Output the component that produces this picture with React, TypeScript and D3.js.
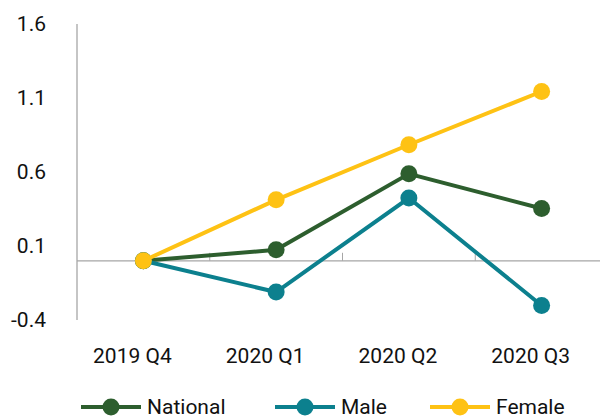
import React, { useEffect, useRef } from "react";
import * as d3 from "d3";

const categories = ["2019 Q4", "2020 Q1", "2020 Q2", "2020 Q3"];
const national = [0, 0.074, 0.588, 0.353];
const male = [0, -0.211, 0.424, -0.302];
const female = [0, 0.412, 0.784, 1.144];
const yTicks = [-0.4, 0.1, 0.6, 1.1, 1.6];
const yTickLabels = ["-0.4", "0.1", "0.6", "1.1", "1.6"];

const seriesList = [
  { name: "National", values: national, color: "#2d5e2e" },
  { name: "Male", values: male, color: "#0c808e" },
  { name: "Female", values: female, color: "#fec214" },
];

const App = () => {
  const ref = useRef<SVGSVGElement>(null);

  useEffect(() => {
    const svg = d3.select(ref.current);
    svg.selectAll("*").remove();

    const width = 600;
    const height = 419;
    const font = "Roboto, sans-serif";

    const x = d3.scaleBand<string>().domain(categories).range([77, 608]);
    const y = d3.scaleLinear().domain([-0.4, 1.6]).range([320, 24]);
    const cx = (c: string) => x(c)! + x.bandwidth() / 2;

    svg.attr("width", width).attr("height", height);

    // y axis line
    svg.append("line")
      .attr("x1", 77).attr("x2", 77)
      .attr("y1", y(1.6)).attr("y2", y(-0.4))
      .attr("stroke", "#a6a6a6").attr("stroke-width", 1.3);

    // x axis at zero
    svg.append("line")
      .attr("x1", 77).attr("x2", 608)
      .attr("y1", y(0)).attr("y2", y(0))
      .attr("stroke", "#a6a6a6").attr("stroke-width", 1.3);

    // category dividers
    categories.forEach((c, i) => {
      if (i === 0) return;
      const tx = x(c)!;
      svg.append("line")
        .attr("x1", tx).attr("x2", tx)
        .attr("y1", y(0)).attr("y2", y(0) - 8)
        .attr("stroke", "#a6a6a6").attr("stroke-width", 1);
    });

    svg.selectAll(".ytick")
      .data(yTicks)
      .enter().append("text")
      .attr("x", 46)
      .attr("y", (d) => y(d))
      .attr("dy", "0.35em")
      .attr("text-anchor", "end")
      .attr("font-family", font)
      .attr("font-size", 21)
      .attr("fill", "#111")
      .text((_, i) => yTickLabels[i]);

    svg.selectAll(".xtick")
      .data(categories)
      .enter().append("text")
      .attr("x", (d) => cx(d) - 11)
      .attr("y", 363)
      .attr("text-anchor", "middle")
      .attr("font-family", font)
      .attr("font-size", 21)
      .attr("fill", "#111")
      .text((d) => d);

    const line = d3.line<number>()
      .x((_, i) => cx(categories[i]))
      .y((d) => y(d));

    seriesList.forEach((s) => {
      svg.append("path")
        .datum(s.values)
        .attr("d", line)
        .attr("fill", "none")
        .attr("stroke", s.color)
        .attr("stroke-width", 4);
      svg.selectAll(null)
        .data(s.values)
        .enter().append("circle")
        .attr("cx", (_, i) => cx(categories[i]))
        .attr("cy", (d) => y(d))
        .attr("r", 8.5)
        .attr("fill", s.color);
    });

    // legend
    const legendX = [81, 275, 430];
    const legendY = 407;
    seriesList.forEach((s, i) => {
      const lx = legendX[i];
      const g = svg.append("g");
      g.append("line")
        .attr("x1", lx).attr("x2", lx + 60)
        .attr("y1", legendY).attr("y2", legendY)
        .attr("stroke", s.color).attr("stroke-width", 4);
      g.append("circle")
        .attr("cx", lx + 30).attr("cy", legendY)
        .attr("r", 8.5).attr("fill", s.color);
      g.append("text")
        .attr("x", lx + 66)
        .attr("y", legendY)
        .attr("dy", "0.35em")
        .attr("font-family", font)
        .attr("font-size", 21)
        .attr("fill", "#111")
        .text(s.name);
    });
  }, []);

  return (
    <svg ref={ref} style={{ position: "absolute", left: 0, top: 0 }}></svg>
  );
};

export default App;
